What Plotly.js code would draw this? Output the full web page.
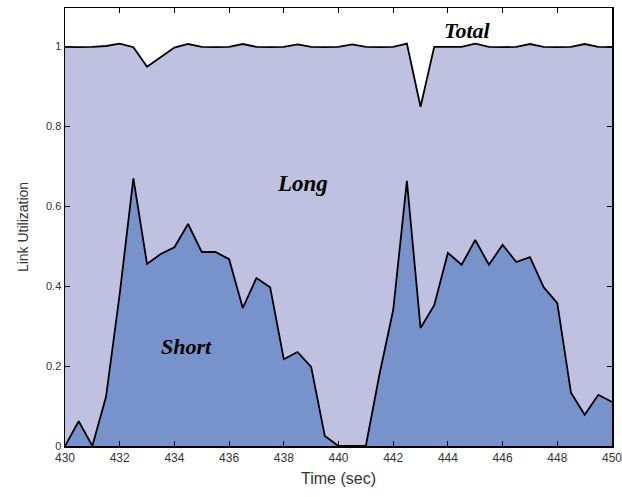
<!DOCTYPE html>
<html><head><meta charset="utf-8">
<script src="https://cdn.plot.ly/plotly-3.0.1.min.js"></script>
<style>body{margin:0;background:#fff}#c{width:622px;height:497px}</style>
</head><body><div id="c"></div>
<script>
const time = [430,430.5,431,431.5,432,432.5,433,433.5,434,434.5,435,435.5,436,436.5,437,437.5,438,438.5,439,439.5,440,440.5,441,441.5,442,442.5,443,443.5,444,444.5,445,445.5,446,446.5,447,447.5,448,448.5,449,449.5,450];
const total = [0.998,0.997,0.998,1.0,1.006,0.997,0.948,0.972,0.996,1.005,0.998,0.997,0.998,1.005,0.998,0.997,0.998,1.004,0.998,0.997,0.998,1.004,0.998,0.997,0.998,1.006,0.848,0.998,0.998,0.998,1.006,0.998,0.997,0.998,1.005,0.998,0.997,0.998,1.005,0.998,0.997];
const shortFlows = [0,0.062,0,0.123,0.38,0.669,0.455,0.48,0.497,0.555,0.485,0.485,0.467,0.345,0.42,0.397,0.217,0.235,0.198,0.025,0,0,0,0.18,0.34,0.663,0.295,0.352,0.483,0.453,0.515,0.453,0.503,0.46,0.472,0.397,0.357,0.133,0.078,0.128,0.11];
const xTicks = [430,432,434,436,438,440,442,444,446,448,450];
const yTicks = [0,0.2,0.4,0.6,0.8,1];
const yTickText = ['0','0.2','0.4','0.6','0.8','1'];
const labels = [
  {text:'Total', x:444.7, y:1.04},
  {text:'Long', x:438.7, y:0.657},
  {text:'Short', x:434.45, y:0.25}
];

const traces = [
  {x: time, y: total, type:'scatter', mode:'lines', fill:'tozeroy',
   fillcolor:'#c0c0e0', line:{color:'#000', width:1.8}, hoverinfo:'skip'},
  {x: time, y: shortFlows, type:'scatter', mode:'lines', fill:'tozeroy',
   fillcolor:'#7893cc', line:{color:'#000', width:1.8}, hoverinfo:'skip'}
];

const layout = {
  width:622, height:497,
  margin:{l:65, r:10, t:8, b:51},
  paper_bgcolor:'#fff', plot_bgcolor:'#fff',
  showlegend:false,
  font:{family:'Liberation Sans, Arial, sans-serif', color:'#333'},
  xaxis:{range:[430,450], tickvals:xTicks, ticktext:xTicks.map(String),
    ticks:'inside', ticklen:5, tickcolor:'#000', showgrid:false, zeroline:false,
    showline:true, linecolor:'#000', linewidth:1.5, mirror:'ticks',
    ticklabeloverflow:'allow',
    tickfont:{size:12, color:'#333'},
    title:{text:'Time (sec)', font:{size:16, color:'#333'}, standoff:9}},
  yaxis:{range:[0,1.095], tickvals:yTicks, ticktext:yTickText,
    ticks:'inside', ticklen:5, tickcolor:'#000', showgrid:false, zeroline:false,
    showline:true, linecolor:'#000', linewidth:1.5, mirror:'ticks',
    tickfont:{size:11, color:'#333'},
    title:{text:'Link Utilization', font:{size:14, color:'#333'}, standoff:14}},
  annotations: labels.map((l,i) => ({x:l.x, y:l.y, xref:'x', yref:'y', text:'<b><i>'+l.text+'</i></b>',
    showarrow:false, font:{family:'Liberation Serif, Times New Roman, serif', size:(i===1?23:22), color:'#000'}}))
};
Plotly.newPlot('c', traces, layout, {staticPlot:true});
</script></body></html>
